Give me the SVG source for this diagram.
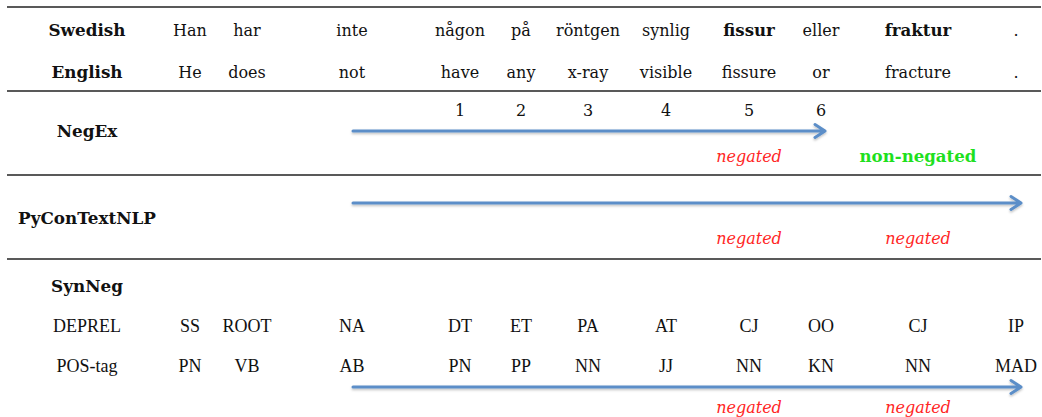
<svg xmlns="http://www.w3.org/2000/svg" width="1042" height="417" viewBox="0 0 1042 417">
<style>
.w{font-family:"DejaVu Serif","Liberation Serif",serif;font-size:16px;fill:#111;text-anchor:middle}
.b{font-weight:bold;font-size:16.6px}
.lab{font-family:"DejaVu Serif","Liberation Serif",serif;font-size:16.8px;font-weight:bold;fill:#111;text-anchor:middle}
.t{font-family:"Liberation Serif","Times New Roman",serif;font-size:18px;fill:#111;text-anchor:middle}
.neg{font-family:"DejaVu Serif","Liberation Serif",serif;font-size:16px;font-style:italic;fill:#ff2626;text-anchor:middle}
.non{font-family:"DejaVu Serif","Liberation Serif",serif;font-size:16.6px;font-weight:bold;fill:#1ee01e;text-anchor:middle}
.rule{stroke:#222;stroke-width:1.5}
.arr{stroke:#5b8ec8;stroke-width:3;fill:none;stroke-linecap:round;stroke-linejoin:round}
</style>
<defs>
<filter id="sh" x="-5%" y="-100%" width="110%" height="300%">
<feDropShadow dx="0" dy="1.5" stdDeviation="1" flood-color="#000" flood-opacity="0.25"/>
</filter>
</defs>
<rect width="1042" height="417" fill="#fff"/>
<g id="rules">
<line class="rule" x1="7" y1="7" x2="1041" y2="7"/>
<line class="rule" x1="7" y1="91" x2="1041" y2="91"/>
<line class="rule" x1="7" y1="175" x2="1041" y2="175"/>
<line class="rule" x1="7" y1="259" x2="1041" y2="259"/>
</g>
<g id="row-swedish">
<text class="lab" x="87" y="36">Swedish</text>
<text class="w" x="190" y="36">Han</text>
<text class="w" x="247" y="36">har</text>
<text class="w" x="352" y="36">inte</text>
<text class="w" x="460" y="36">någon</text>
<text class="w" x="521" y="36">på</text>
<text class="w" x="588" y="36">röntgen</text>
<text class="w" x="666" y="36">synlig</text>
<text class="w b" x="749" y="36">fissur</text>
<text class="w" x="821" y="36">eller</text>
<text class="w b" x="918" y="36">fraktur</text>
<text class="w" x="1016" y="36">.</text>
</g>
<g id="row-english">
<text class="lab" x="87" y="78">English</text>
<text class="w" x="190" y="78">He</text>
<text class="w" x="247" y="78">does</text>
<text class="w" x="352" y="78">not</text>
<text class="w" x="460" y="78">have</text>
<text class="w" x="521" y="78">any</text>
<text class="w" x="588" y="78">x-ray</text>
<text class="w" x="666" y="78">visible</text>
<text class="w" x="749" y="78">fissure</text>
<text class="w" x="821" y="78">or</text>
<text class="w" x="918" y="78">fracture</text>
<text class="w" x="1016" y="78">.</text>
</g>
<g id="negex">
<text class="lab" x="87" y="137">NegEx</text>
<text class="w" x="460" y="116">1</text>
<text class="w" x="521" y="116">2</text>
<text class="w" x="588" y="116">3</text>
<text class="w" x="666" y="116">4</text>
<text class="w" x="749" y="116">5</text>
<text class="w" x="821" y="116">6</text>
<text class="neg" x="749" y="162">negated</text>
<text class="non" x="918" y="162">non-negated</text>
</g>
<g id="pycontextnlp">
<text class="lab" x="87" y="224">PyConTextNLP</text>
<text class="neg" x="749" y="244">negated</text>
<text class="neg" x="918" y="244">negated</text>
</g>
<g id="synneg">
<text class="lab" x="87" y="292">SynNeg</text>
<text class="t" x="87" y="332">DEPREL</text>
<text class="t" x="190" y="332">SS</text>
<text class="t" x="247" y="332">ROOT</text>
<text class="t" x="352" y="332">NA</text>
<text class="t" x="460" y="332">DT</text>
<text class="t" x="521" y="332">ET</text>
<text class="t" x="588" y="332">PA</text>
<text class="t" x="666" y="332">AT</text>
<text class="t" x="749" y="332">CJ</text>
<text class="t" x="821" y="332">OO</text>
<text class="t" x="918" y="332">CJ</text>
<text class="t" x="1016" y="332">IP</text>
<text class="t" x="87" y="372">POS-tag</text>
<text class="t" x="190" y="372">PN</text>
<text class="t" x="247" y="372">VB</text>
<text class="t" x="352" y="372">AB</text>
<text class="t" x="460" y="372">PN</text>
<text class="t" x="521" y="372">PP</text>
<text class="t" x="588" y="372">NN</text>
<text class="t" x="666" y="372">JJ</text>
<text class="t" x="749" y="372">NN</text>
<text class="t" x="821" y="372">KN</text>
<text class="t" x="918" y="372">NN</text>
<text class="t" x="1016" y="372">MAD</text>
<text class="neg" x="749" y="413">negated</text>
<text class="neg" x="918" y="413">negated</text>
</g>
<g id="connectors" filter="url(#sh)">
<path class="arr" d="M353 131 H825 M815 124.5 L825 131 L815 137.5"/>
<path class="arr" d="M353 203 H1021 M1011 196.5 L1021 203 L1011 209.5"/>
<path class="arr" d="M353 387 H1021 M1011 380.5 L1021 387 L1011 393.5"/>
</g>
</svg>
